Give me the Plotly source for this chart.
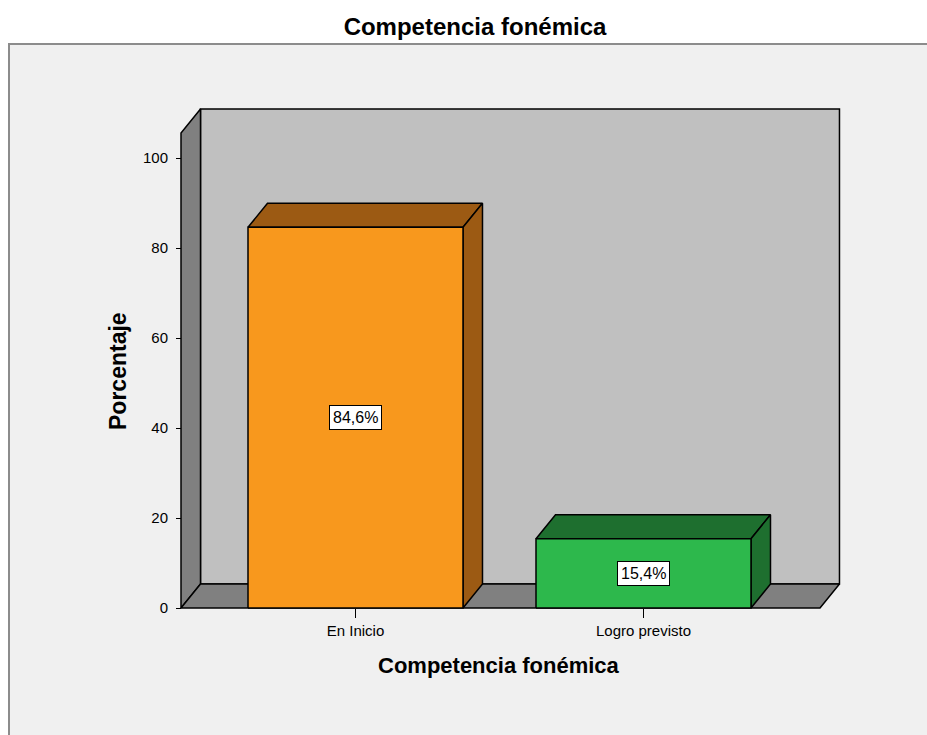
import plotly.graph_objects as go

# ---- data ----
categories = ["En Inicio", "Logro previsto"]
percentages = [84.6, 15.4]
y_ticks = [0, 20, 40, 60, 80, 100]

front_colors = ["#F8981D", "#2DB84C"]
dark_colors = ["#9C5A13", "#1E6F2F"]

FONT = "Liberation Sans, Arial, sans-serif"

# ---- 3D geometry (data units) ----
X_LEFT = -0.6059      # front-left edge of the chart box
X_RIGHT = 1.6128      # front-right edge of the floor
DX = 0.0677           # depth offset in x
DY = 5.333            # depth offset in y
Y_TOP = 105.56        # front top of the left wall
BW = 0.7465           # bar width

fig = go.Figure()


def poly(xs, ys, fill, lw=1.5):
    fig.add_trace(go.Scatter(
        x=xs + [xs[0]], y=ys + [ys[0]], mode="lines", fill="toself",
        fillcolor=fill, line=dict(color="black", width=lw),
        hoverinfo="skip", showlegend=False))


# back wall
poly([X_LEFT + DX, X_RIGHT + DX, X_RIGHT + DX, X_LEFT + DX],
     [DY, DY, Y_TOP + DY, Y_TOP + DY], "#C0C0C0")
# left wall
poly([X_LEFT, X_LEFT, X_LEFT + DX, X_LEFT + DX],
     [0, Y_TOP, Y_TOP + DY, DY], "#808080")
# floor
poly([X_LEFT, X_RIGHT, X_RIGHT + DX, X_LEFT + DX],
     [0, 0, DY, DY], "#808080")

# bars
for i, (v, fc, dc) in enumerate(zip(percentages, front_colors, dark_colors)):
    l, r = i - BW / 2, i + BW / 2
    # top
    poly([l, r, r + DX, l + DX], [v, v, v + DY, v + DY], dc)
    # side
    poly([r, r + DX, r + DX, r], [0, DY, v + DY, v], dc)
    # front
    poly([l, r, r, l], [0, 0, v, v], fc)
    fig.add_annotation(
        x=i, y=v / 2, text=f"{v:.1f}%".replace(".", ","), showarrow=False,
        xanchor="center", yanchor="middle",
        font=dict(family=FONT, size=16, color="black"),
        bgcolor="white", bordercolor="black", borderwidth=1, borderpad=3)

# plot area pixels: x 175..845, y 103..614
W, H = 670, 511
L, B = 175, 614


def px(p):
    return (p - L) / W


def py(p):
    return (B - p) / H


# outer frame
fig.add_shape(type="rect", xref="paper", yref="paper",
              x0=px(9), x1=px(1000), y0=py(800), y1=py(44),
              fillcolor="#F0F0F0", line=dict(color="#8C8C8C", width=2),
              layer="below")

fig.add_annotation(xref="paper", yref="paper", x=px(499), y=py(665),
                   xanchor="center", yanchor="middle",
                   text="<b>Competencia fonémica</b>", showarrow=False,
                   font=dict(family=FONT, size=22, color="black"))
fig.add_annotation(xref="paper", yref="paper", x=px(118), y=py(371),
                   xanchor="center", yanchor="middle",
                   text="<b>Porcentaje</b>", showarrow=False, textangle=-90,
                   font=dict(family=FONT, size=23, color="black"))

fig.update_layout(
    width=927, height=735,
    margin=dict(l=L, r=927 - 845, t=103, b=735 - B),
    paper_bgcolor="white", plot_bgcolor="rgba(0,0,0,0)",
    title=dict(text="<b>Competencia fonémica</b>", x=475 / 927, xref="container",
               xanchor="center", y=1 - 27 / 735, yref="container", yanchor="middle",
               font=dict(family=FONT, size=24, color="black")),
    xaxis=dict(range=[(175 - 355.5) / 288, (845 - 355.5) / 288],
               anchor="free", position=(B - 608) / H,
               tickvals=list(range(len(categories))), ticktext=categories,
               ticks="outside", ticklen=9, tickwidth=1.2, tickcolor="black",
               showgrid=False, zeroline=False, showline=False,
               tickfont=dict(family=FONT, size=15, color="black")),
    yaxis=dict(range=[(608 - 614) / 4.5, (608 - 103) / 4.5],
               anchor="free", position=(181 - L) / W,
               tickvals=y_ticks, ticks="outside", ticklen=5, tickwidth=1.2,
               ticklabelstandoff=5,
               tickcolor="black", showgrid=False, zeroline=False, showline=False,
               tickfont=dict(family=FONT, size=15, color="black")),
    showlegend=False,
)

fig.write_html(
    "out.html",
    config={"displayModeBar": False},
    post_script="document.body.style.margin='0';document.body.style.overflow='hidden';",
)
